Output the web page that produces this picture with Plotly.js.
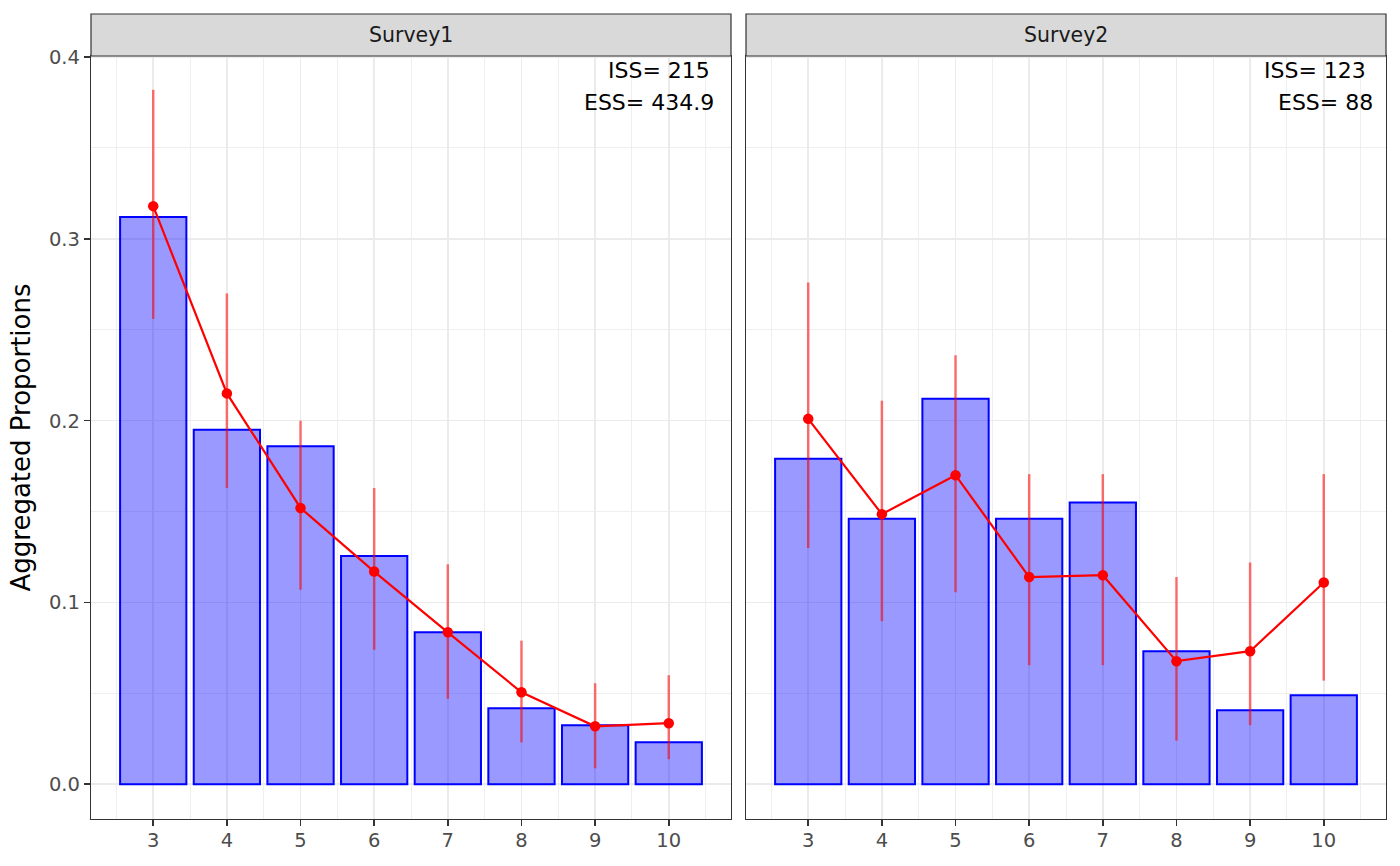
<!DOCTYPE html>
<html>
<head>
<meta charset="utf-8">
<script src="https://cdn.plot.ly/plotly-3.0.1.min.js"></script>
<style>
  html, body { margin: 0; padding: 0; background: #fff; }
  #chart { width: 1400px; height: 866px; }
</style>
</head>
<body>
<div id="chart"></div>
<script>
// ages shown on both panels
var ages = [3, 4, 5, 6, 7, 8, 9, 10];

// Survey1
var obs1 = [0.312, 0.195, 0.186, 0.1255, 0.0836, 0.0418, 0.0325, 0.0231];
var pred1 = [0.318, 0.215, 0.152, 0.117, 0.0836, 0.0506, 0.0319, 0.0336];
var lo1 = [0.256, 0.163, 0.107, 0.074, 0.047, 0.023, 0.0088, 0.0138];
var hi1 = [0.382, 0.270, 0.200, 0.163, 0.121, 0.079, 0.0556, 0.060];

// Survey2
var obs2 = [0.179, 0.146, 0.212, 0.146, 0.155, 0.0732, 0.0407, 0.049];
var pred2 = [0.201, 0.1486, 0.170, 0.114, 0.115, 0.0677, 0.0732, 0.111];
var lo2 = [0.130, 0.0897, 0.1056, 0.0655, 0.0655, 0.024, 0.0325, 0.057];
var hi2 = [0.276, 0.211, 0.236, 0.1706, 0.1706, 0.114, 0.122, 0.1706];

var panels = ['Survey1', 'Survey2'];
var issLabels = ['ISS= 215', 'ISS= 123'];
var essLabels = ['ESS= 434.9', 'ESS= 88'];

function diff(a, b) {
    return a.map(function (v, i) { return v - b[i]; });
}

function panelTraces(obs, pred, lo, hi, xa, ya) {
    var bars = {
        x: ages, y: obs, type: 'bar', width: 0.9,
        xaxis: xa, yaxis: ya,
        marker: {color: 'rgba(0,0,255,0.4)', line: {color: '#0000FF', width: 2}},
        hoverinfo: 'x+y'
    };
    var errs = {
        x: ages, y: pred, type: 'scatter', mode: 'markers',
        xaxis: xa, yaxis: ya,
        marker: {size: 1, color: 'rgba(0,0,0,0)'},
        error_y: {
            type: 'data', symmetric: false,
            array: diff(hi, pred), arrayminus: diff(pred, lo),
            color: 'rgba(255,0,0,0.55)', thickness: 2.5, width: 0
        },
        hoverinfo: 'skip'
    };
    var line = {
        x: ages, y: pred, type: 'scatter', mode: 'lines+markers',
        xaxis: xa, yaxis: ya,
        line: {color: '#FF0000', width: 2.2},
        marker: {color: '#FF0000', size: 10.5}
    };
    return [bars, errs, line];
}

var data = panelTraces(obs1, pred1, lo1, hi1, 'x', 'y')
    .concat(panelTraces(obs2, pred2, lo2, hi2, 'x2', 'y2'));

// pixel helpers for the 1400x866 frame
var ML = 91, MR = 14, MT = 56, MB = 47;
var PW = 1400 - ML - MR, PH = 866 - MT - MB;
function px(x) { return (x - ML) / PW; }
function py(y) { return (866 - MB - y) / PH; }

var dom1 = [px(91), px(731)];
var dom2 = [px(746), px(1386)];

var gridMajor = '#EBEBEB';
var tickFont = {family: 'DejaVu Sans', size: 19.5, color: '#4D4D4D'};

function xAxis(dom) {
    return {
        domain: dom, range: [2.155, 10.845],
        tickmode: 'array', tickvals: ages, ticktext: ages.map(String),
        ticks: 'outside', ticklen: 6, tickwidth: 1.6, tickcolor: '#333333',
        tickfont: tickFont, ticklabelstandoff: -3,
        showgrid: true, gridcolor: gridMajor, gridwidth: 1.6,
        minor: {tick0: 2.5, dtick: 1, showgrid: true, gridcolor: gridMajor, gridwidth: 0.8, ticks: ''},
        zeroline: false,
        showline: true, mirror: true, linecolor: '#333333', linewidth: 1.2
    };
}

function yAxis(anchor, labels) {
    return {
        domain: [0, 1], range: [-0.0191, 0.4006], anchor: anchor,
        dtick: 0.1, tick0: 0, tickformat: '.1f',
        ticks: labels ? 'outside' : '', ticklen: 6, tickwidth: 1.6, tickcolor: '#333333',
        showticklabels: labels, tickfont: tickFont,
        showgrid: true, gridcolor: gridMajor, gridwidth: 1.6,
        minor: {tick0: 0.05, dtick: 0.1, showgrid: true, gridcolor: gridMajor, gridwidth: 0.8, ticks: ''},
        zeroline: false,
        showline: true, mirror: true, linecolor: '#333333', linewidth: 1.2
    };
}

var yaxis1 = yAxis('x', true);
yaxis1.title = {text: 'Aggregated Proportions', font: {family: 'DejaVu Sans', size: 26, color: '#000000'}, standoff: 10};

var shapes = [];
var annotations = [];
[dom1, dom2].forEach(function (d, i) {
    shapes.push({
        type: 'rect', xref: 'paper', yref: 'paper',
        x0: d[0], x1: d[1], y0: py(56), y1: py(14),
        fillcolor: '#D9D9D9', line: {color: '#333333', width: 1.2}, layer: 'above'
    });
    annotations.push({
        xref: 'paper', yref: 'paper', x: (d[0] + d[1]) / 2, y: py(35),
        text: panels[i], showarrow: false, xanchor: 'center', yanchor: 'middle',
        font: {family: 'DejaVu Sans', size: 20.5, color: '#1A1A1A'}
    });
});

var issRight = [712, 1368];
var essRight = [716, 1375];
for (var i = 0; i < 2; i++) {
    annotations.push({
        xref: 'paper', yref: 'paper', x: px(issRight[i]), y: py(70),
        text: issLabels[i], showarrow: false, xanchor: 'right', yanchor: 'middle',
        font: {family: 'DejaVu Sans', size: 22, color: '#000000'}
    });
    annotations.push({
        xref: 'paper', yref: 'paper', x: px(essRight[i]), y: py(102),
        text: essLabels[i], showarrow: false, xanchor: 'right', yanchor: 'middle',
        font: {family: 'DejaVu Sans', size: 22, color: '#000000'}
    });
}

var layout = {
    width: 1400, height: 866,
    margin: {l: ML, r: MR, t: MT, b: MB, pad: 0},
    paper_bgcolor: '#FFFFFF', plot_bgcolor: '#FFFFFF',
    showlegend: false,
    barmode: 'overlay',
    xaxis: xAxis(dom1),
    xaxis2: xAxis(dom2),
    yaxis: yaxis1,
    yaxis2: yAxis('x2', false),
    shapes: shapes,
    annotations: annotations
};
layout.xaxis.anchor = 'y';
layout.xaxis2.anchor = 'y2';

Plotly.newPlot('chart', data, layout, {displayModeBar: false, staticPlot: true});
</script>
</body>
</html>
